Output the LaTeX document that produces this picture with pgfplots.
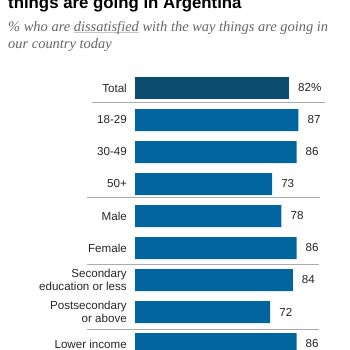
\documentclass[border=0pt]{standalone}
\usepackage{pgfplots}
\pgfplotsset{compat=1.18}
\usepackage{fontspec}
\setmainfont{Liberation Sans}
\newfontfamily\subfont{Liberation Serif}
\definecolor{pewnavy}{HTML}{0C4C6E}
\definecolor{pewblue}{HTML}{00659E}
\definecolor{subgray}{HTML}{666666}
\definecolor{sepgray}{HTML}{ABABAB}
\definecolor{labtext}{HTML}{262626}
\newlength\subw
\settowidth\subw{\subfont\itshape\fontsize{10bp}{12bp}\selectfont \% who are dissatisfied with the way things are going in}
\pgfmathsetmacro\subsize{10*320*1.00375/\subw}
\begin{document}
\begin{tikzpicture}
\useasboundingbox (0bp,0bp) rectangle (350bp,-350bp);
\clip (0bp,0bp) rectangle (350bp,-350bp);
\node[anchor=base west, inner sep=0, font=\bfseries\fontsize{16.8bp}{20bp}\selectfont] at (8bp,-8bp) {things are going in Argentina};
\node[anchor=base west, inner sep=0, text=subgray, font=\subfont\itshape\fontsize{\subsize bp}{17bp}\selectfont] at (8bp,-31bp) {\% who are {\setbox0\hbox{dissatisfied}\rlap{\color{sepgray!70}\rule[-2.2bp]{\wd0}{0.9bp}}\box0} with the way things are going in};
\node[anchor=base west, inner sep=0, text=subgray, font=\subfont\itshape\fontsize{\subsize bp}{17bp}\selectfont] at (8bp,-48bp) {our country today};
\begin{axis}[
  at={(135bp,-72bp)}, anchor=north west,
  scale only axis, width=187.8bp, height=288bp,
  xmin=0, xmax=100, ymin=-0.5, ymax=8.5,
  y dir=reverse,
  xbar, bar width=22bp, bar shift=0pt,
  axis line style={draw=none},
  major tick length=0pt,
  xtick=\empty,
  ytick={0,1,2,3,4,5,6,7,8},
  yticklabels={Total,18-29,30-49,50+,Male,Female,{Secondary\\education or less},{Postsecondary\\or above},Lower income},
  yticklabel style={align=right, anchor=east, inner sep=0pt, xshift=-8bp, text=labtext, font=\fontsize{11.6bp}{13.5bp}\selectfont},
  /pgf/number format/assume math mode=true,
  nodes near coords style={anchor=west, inner sep=0pt, xshift=9bp, text=labtext, font=\fontsize{11.6bp}{13.5bp}\selectfont},
  clip=false,
]
\addplot[fill=pewnavy, draw=none, nodes near coords={\pgfmathprintnumber{\pgfplotspointmeta}\%}] coordinates {(82,0)};
\addplot[fill=pewblue, draw=none, nodes near coords] coordinates {(87,1) (86,2) (73,3) (78,4) (86,5) (84,6) (72,7) (86,8)};
\end{axis}
\draw[sepgray, line width=0.9bp] (92bp,-102bp) -- (325bp,-102bp);
\draw[sepgray, line width=0.9bp] (87bp,-197bp) -- (320bp,-197bp);
\draw[sepgray, line width=0.9bp] (87bp,-264bp) -- (319bp,-264bp);
\draw[sepgray, line width=0.9bp] (87bp,-329bp) -- (319bp,-329bp);
\end{tikzpicture}
\end{document}
